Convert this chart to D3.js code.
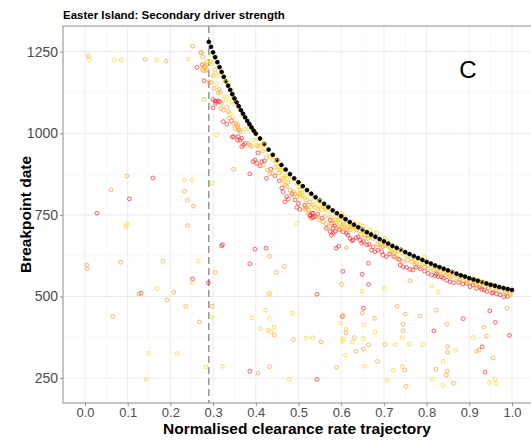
<!DOCTYPE html>
<html>
<head>
<meta charset="utf-8">
<script src="https://cdn.jsdelivr.net/npm/d3@7"></script>
<style>
  body { margin: 0; background: #fff; }
  text { font-family: "Liberation Sans", Arial, sans-serif; }
</style>
</head>
<body>
<svg id="chart" width="531" height="444"></svg>
<script>
// Axis ticks
const xTicks = [0, 0.1, 0.2, 0.3, 0.4, 0.5, 0.6, 0.7, 0.8, 0.9, 1.0];
const yTicks = [250, 500, 750, 1000, 1250];
const threshold = 0.29;

// Fitted breakpoint envelope (black)
const curveX = [0.290,0.295,0.300,0.305,0.310,0.315,0.320,0.325,0.330,0.335,0.340,0.345,0.350,0.355,0.360,0.365,0.370,0.375,0.380,0.385,0.390,0.395,0.400,
  0.41,0.42,0.43,0.44,0.45,0.46,0.47,0.48,0.49,0.50,0.51,0.52,0.53,0.54,0.55,0.56,0.57,0.58,0.59,0.60,
  0.61,0.62,0.63,0.64,0.65,0.66,0.67,0.68,0.69,0.70,0.71,0.72,0.73,0.74,0.75,0.76,0.77,0.78,0.79,0.80,
  0.81,0.82,0.83,0.84,0.85,0.86,0.87,0.88,0.89,0.90,0.91,0.92,0.93,0.94,0.95,0.96,0.97,0.98,0.99,1.00];
const curveY = [1280,1265,1248,1233,1218,1203,1188,1173,1159,1146,1133,1120,1107,1095,1083,1071,1060,1049,1038,1028,1018,1008,999,
  984,967,950,934,918,903,889,875,862,850,838,826,815,804,794,784,774,764,755,746,
  737,728,720,712,704,697,690,683,676,669,662,655,649,643,636,630,624,618,612,606,
  601,595,590,585,580,575,570,565,561,556,552,548,544,540,536,533,529,526,523,520];

// Simulated runs, coloured by driver strength
const redPoints = [
  [0.262,1202],[0.279,1161],[0.159,863],[0.104,799],[0.028,755],[0.320,655],[0.322,659],[0.398,645],[0.424,648],
  [0.386,600],[0.252,554],[0.289,542],[0.131,510],[0.386,271],[0.543,507],[0.652,464],[0.603,439],[0.886,432],
  [0.948,456],[0.961,421],[0.817,395],[0.994,381],[0.930,346],[0.937,268],[0.543,246],[0.649,568],[0.664,602],
  [0.588,648],[0.594,654],[0.664,537],[0.604,577],[0.343,1038],
  [0.300,1104],[0.304,1099],[0.308,1097],[0.312,1099],[0.316,1097],[0.306,1092],[0.300,1078],[0.324,1036],
  [0.332,1028],[0.345,988],[0.359,990],[0.367,985],[0.348,990],[0.357,979],[0.363,979],[0.371,964],[0.367,959],
  [0.375,969],[0.394,913],[0.398,918],[0.402,908],[0.410,900],[0.414,913],[0.386,876],[0.425,862],[0.461,832],
  [0.464,821],[0.472,806],[0.476,798],[0.468,790],[0.492,796],[0.500,785],[0.496,773],[0.503,767],[0.527,747],
  [0.534,743],[0.531,755],[0.574,734],[0.578,724],[0.585,716],[0.581,709],[0.565,709],[0.527,750],[0.531,740],
  [0.538,745],[0.534,755],[0.574,699],[0.581,694],[0.585,699],[0.577,688],[0.612,694],[0.616,688],[0.621,678],
  [0.628,673],[0.625,671],[0.640,683],[0.644,673],[0.652,668],[0.648,663],[0.660,658],[0.671,642],[0.679,637],
  [0.686,642],[0.698,627],[0.706,622],[0.714,630],[0.738,596],[0.745,591],[0.753,589],[0.761,583],[0.768,581],
  [0.804,571],[0.812,566],[0.820,563],[0.827,561],[0.823,569],[0.839,556],[0.847,550],[0.855,545],[0.863,542],
  [0.894,540],[0.902,530],[0.909,535],[0.917,525],[0.929,522],[0.941,515],[0.953,510],[0.964,508],[0.972,505],
  [0.981,499],
  [0.405,940],[0.420,915],[0.435,890],[0.445,870],[0.455,855],[0.485,815],[0.515,780],[0.545,752],[0.555,740],
  [0.595,705],[0.605,698],[0.635,680],[0.665,660],[0.675,652],[0.695,637],[0.725,622],[0.735,614],[0.775,590],
  [0.785,585],[0.795,578],[0.835,560],[0.875,543],[0.885,538],[0.925,528],[0.935,520],[0.955,512],[0.990,500]
];
const orangePoints = [
  [0.008,1237],[0.141,1227],[0.190,1221],[0.252,1267],[0.271,1248],[0.276,1233],[0.275,1210],[0.281,1205],
  [0.284,1192],[0.277,1192],[0.279,1104],[0.098,869],[0.061,827],[0.233,822],[0.240,795],[0.254,777],[0.240,717],
  [0.432,623],[0.004,597],[0.005,585],[0.084,605],[0.183,608],[0.467,592],[0.448,574],[0.305,574],[0.126,508],
  [0.208,513],[0.192,489],[0.236,470],[0.298,470],[0.065,439],[0.268,422],[0.443,382],[0.488,368],[0.405,265],
  [0.432,285],[0.601,537],[0.761,548],[0.731,470],[0.649,449],[0.750,446],[0.785,440],[0.823,458],[0.678,433],
  [0.745,415],[0.847,415],[0.988,464],[0.611,389],[0.745,395],[0.934,406],[0.553,361],[0.631,374],[0.664,352],
  [0.702,353],[0.849,347],[0.940,379],[0.923,336],[0.917,332],[0.956,312],[0.635,332],[0.652,339],[0.849,329],
  [0.685,301],[0.589,283],[0.749,275],[0.822,277],[0.848,271],[0.846,259],[0.863,234],[0.752,225],[0.612,650],
  [0.272,1247],[0.274,1210],[0.279,1204],[0.283,1211],[0.275,1196],[0.285,1196],[0.300,1176],[0.290,1158],
  [0.295,1156],[0.302,1138],[0.314,1135],[0.312,1123],[0.317,1126],[0.320,1092],[0.332,1080],[0.324,1071],
  [0.318,1076],[0.336,1066],[0.348,1029],[0.353,1031],[0.358,1026],[0.351,1015],[0.359,1010],[0.363,1005],
  [0.382,969],[0.386,964],[0.390,959],[0.418,903],[0.427,888],[0.433,876],[0.439,877],[0.348,890],[0.338,1046],
  [0.357,1020],[0.361,1012],[0.468,842],[0.472,837],[0.480,826],[0.488,821],[0.492,814],[0.484,811],[0.496,806],
  [0.519,796],[0.527,790],[0.523,780],[0.515,767],[0.523,755],[0.543,745],[0.550,734],[0.562,745],[0.519,770],
  [0.523,765],[0.515,775],[0.558,729],[0.565,722],[0.569,714],[0.589,709],[0.597,704],[0.601,714],[0.589,719],
  [0.612,709],[0.621,704],[0.628,714],[0.636,704],[0.656,688],[0.663,678],[0.667,685],[0.675,678],[0.690,658],
  [0.698,653],[0.702,663],[0.710,653],[0.722,622],[0.730,617],[0.738,612],[0.745,607],[0.773,596],[0.776,602],
  [0.785,591],[0.804,586],[0.816,581],[0.831,576],[0.839,571],[0.859,561],[0.870,556],[0.878,550],[0.902,545],
  [0.913,540],[0.925,535],[0.937,530],[0.964,520],[0.976,515],[0.988,510],[0.995,508],
  [0.405,960],[0.415,945],[0.425,925],[0.445,895],[0.455,880],[0.465,862],[0.475,850],[0.505,812],[0.535,780],
  [0.545,768],[0.575,742],[0.585,735],[0.605,722],[0.615,712],[0.645,690],[0.655,680],[0.685,660],[0.695,652],
  [0.715,638],[0.725,633],[0.755,612],[0.765,606],[0.795,592],[0.825,575],[0.845,566],[0.855,562],[0.885,548],
  [0.895,543],[0.915,536],[0.945,526],[0.955,522],[0.985,512]
];
const yellowPoints = [
  [0.010,1225],[0.069,1224],[0.085,1224],[0.168,1224],[0.242,1228],[0.285,1219],[0.233,857],[0.251,857],
  [0.098,722],[0.096,714],[0.298,847],[0.308,995],[0.265,608],[0.251,543],[0.169,524],[0.297,436],[0.433,510],
  [0.430,507],[0.423,458],[0.486,449],[0.391,435],[0.432,433],[0.443,406],[0.411,402],[0.429,396],[0.435,392],
  [0.518,372],[0.149,326],[0.216,325],[0.284,284],[0.322,286],[0.143,246],[0.478,246],[0.701,524],[0.812,533],
  [0.827,513],[0.649,516],[0.605,444],[0.599,418],[0.654,414],[0.612,400],[0.680,390],[0.533,374],[0.605,370],
  [0.603,363],[0.626,361],[0.652,371],[0.743,374],[0.727,353],[0.759,354],[0.792,353],[0.909,374],[0.868,335],
  [0.610,320],[0.839,301],[0.656,286],[0.722,274],[0.743,286],[0.960,246],[0.963,234],[0.947,237],[0.707,243],
  [0.813,246],[0.838,228],[0.795,621],
  [0.286,1219],[0.297,1240],[0.295,1219],[0.298,1214],[0.304,1194],[0.306,1184],[0.311,1176],[0.308,1153],
  [0.326,1112],[0.330,1102],[0.340,1112],[0.344,1097],[0.348,1090],[0.375,1012],[0.382,1015],[0.316,1199],
  [0.324,1173],[0.336,1153],[0.344,1133],[0.358,1081],[0.367,1056],[0.340,1061],[0.346,1051],[0.394,979],
  [0.402,964],[0.410,961],[0.418,961],[0.433,928],[0.441,918],[0.449,908],[0.453,898],[0.461,887],[0.468,867],
  [0.472,862],[0.457,887],[0.461,872],[0.464,857],[0.463,847],[0.500,836],[0.503,826],[0.507,818],[0.511,808],
  [0.531,775],[0.538,773],[0.558,775],[0.565,765],[0.593,734],[0.597,724],[0.605,714],[0.621,712],[0.609,745],
  [0.601,755],[0.625,709],[0.632,712],[0.496,724],[0.503,816],[0.507,806],[0.515,801],[0.546,775],[0.554,765],
  [0.562,770],[0.581,729],[0.589,734],[0.597,740],[0.601,750],[0.605,729],[0.628,729],[0.636,724],[0.644,719],
  [0.652,716],[0.667,704],[0.675,696],[0.683,694],[0.695,673],[0.702,678],[0.710,668],[0.718,642],[0.730,637],
  [0.742,632],[0.749,627],[0.765,617],[0.773,612],[0.785,607],[0.796,602],[0.812,596],[0.823,591],[0.835,586],
  [0.847,581],[0.863,571],[0.874,566],[0.886,563],[0.894,561],[0.909,556],[0.921,550],[0.933,545],[0.944,540],
  [0.956,535],[0.972,530],[0.984,525],[0.991,522],[0.998,505],
  [0.405,985],[0.415,968],[0.425,950],[0.435,933],[0.445,917],[0.455,902],[0.465,888],[0.475,874],[0.485,860],
  [0.495,848],[0.505,836],[0.515,823],[0.525,812],[0.535,801],[0.545,791],[0.555,781],[0.565,771],[0.575,761],
  [0.585,752],[0.595,743],[0.615,725],[0.625,716],[0.635,708],[0.645,700],[0.655,692],[0.665,685],[0.685,671],
  [0.695,664],[0.705,657],[0.715,650],[0.725,644],[0.735,638],[0.755,625],[0.775,613],[0.795,601],[0.805,595],
  [0.815,590],[0.825,584],[0.845,574],[0.855,569],[0.875,560],[0.885,556],[0.895,551],[0.915,543],[0.925,539],
  [0.945,532],[0.965,525],[0.985,519]
];
// Runs sitting on the envelope, drawn over it
const yellowOnCurve = [[0.33,1158],[0.42,965],[0.45,916],[0.55,792],[0.65,703],[0.74,642],[0.86,574],[0.93,543]];

const svg = d3.select("#chart");
const panel = { left: 63, top: 26, right: 534, bottom: 403 };

const x = d3.scaleLinear().domain([0, 1]).range([85, 512]);
const y = d3.scaleLinear().domain([250, 1250]).range([378.1, 51.7]);

svg.append("defs").append("clipPath").attr("id", "clip")
  .append("rect").attr("x", panel.left).attr("y", panel.top)
  .attr("width", panel.right - panel.left).attr("height", panel.bottom - panel.top);

// grid
const grid = svg.append("g");
const xMinor = xTicks.slice(0, -1).map(t => t + 0.05);
const yMinor = yTicks.slice(0, -1).map(t => t + 125);
grid.selectAll(".xm").data(xMinor).join("line")
  .attr("x1", d => x(d)).attr("x2", d => x(d)).attr("y1", panel.top).attr("y2", panel.bottom)
  .attr("stroke", "#f3f3f3").attr("stroke-width", 0.6);
grid.selectAll(".ym").data(yMinor).join("line")
  .attr("y1", d => y(d)).attr("y2", d => y(d)).attr("x1", panel.left).attr("x2", panel.right)
  .attr("stroke", "#f3f3f3").attr("stroke-width", 0.6);
grid.selectAll(".xM").data(xTicks).join("line")
  .attr("x1", d => x(d)).attr("x2", d => x(d)).attr("y1", panel.top).attr("y2", panel.bottom)
  .attr("stroke", "#ebebeb").attr("stroke-width", 1);
grid.selectAll(".yM").data(yTicks).join("line")
  .attr("y1", d => y(d)).attr("y2", d => y(d)).attr("x1", panel.left).attr("x2", panel.right)
  .attr("stroke", "#ebebeb").attr("stroke-width", 1);

// threshold line
svg.append("line")
  .attr("x1", x(threshold)).attr("x2", x(threshold))
  .attr("y1", panel.top).attr("y2", panel.bottom)
  .attr("stroke", "#9a9a9a").attr("stroke-width", 1.6).attr("stroke-dasharray", "7,4");

const pts = svg.append("g").attr("clip-path", "url(#clip)");
function drawPoints(data, colour, opacity, fill) {
  pts.append("g").selectAll("circle").data(data).join("circle")
    .attr("cx", d => x(d[0])).attr("cy", d => y(d[1])).attr("r", 1.9)
    .attr("fill", fill || "none").attr("stroke", colour)
    .attr("stroke-width", 0.9).attr("stroke-opacity", opacity);
}
drawPoints(redPoints, "#ff1a1a", 0.75);
drawPoints(orangePoints, "#ff9a26", 0.75);
drawPoints(yellowPoints, "#ffd21f", 0.8);
drawPoints(curveX.map((v, i) => [v, curveY[i]]), "#000000", 0.95, "#000000");
drawPoints(yellowOnCurve, "#ffd21f", 0.9);

// panel border
svg.append("rect")
  .attr("x", panel.left).attr("y", panel.top)
  .attr("width", panel.right - panel.left).attr("height", panel.bottom - panel.top)
  .attr("fill", "none").attr("stroke", "#8c8c8c").attr("stroke-width", 1);

// axes
const xAxis = svg.append("g").attr("transform", `translate(0,${panel.bottom})`)
  .call(d3.axisBottom(x).tickValues(xTicks).tickFormat(d3.format(".1f")).tickSize(3).tickPadding(2));
const yAxis = svg.append("g").attr("transform", `translate(${panel.left},0)`)
  .call(d3.axisLeft(y).tickValues(yTicks).tickFormat(d3.format("d")).tickSize(3).tickPadding(2));
[xAxis, yAxis].forEach(a => {
  a.select(".domain").remove();
  a.selectAll(".tick line").attr("stroke", "#8c8c8c");
  a.selectAll(".tick text").attr("fill", "#4d4d4d")
    .style("font-family", "'Liberation Sans', Arial, sans-serif");
});
xAxis.selectAll(".tick text").style("font-size", "13px");
yAxis.selectAll(".tick text").style("font-size", "14px");

// titles
svg.append("text").attr("x", 63).attr("y", 19)
  .style("font-size", "11.5px").style("font-weight", "bold").attr("fill", "#000")
  .text("Easter Island: Secondary driver strength");
svg.append("text").attr("x", 297).attr("y", 434)
  .attr("text-anchor", "middle").style("font-size", "15.5px").style("font-weight", "bold")
  .text("Normalised clearance rate trajectory");
svg.append("text").attr("transform", `translate(31,${(panel.top + panel.bottom) / 2}) rotate(-90)`)
  .attr("text-anchor", "middle").style("font-size", "15.5px").style("font-weight", "bold")
  .text("Breakpoint date");
svg.append("text").attr("x", 468).attr("y", 77.5).attr("text-anchor", "middle")
  .style("font-size", "24px").text("C");
</script>
</body>
</html>
